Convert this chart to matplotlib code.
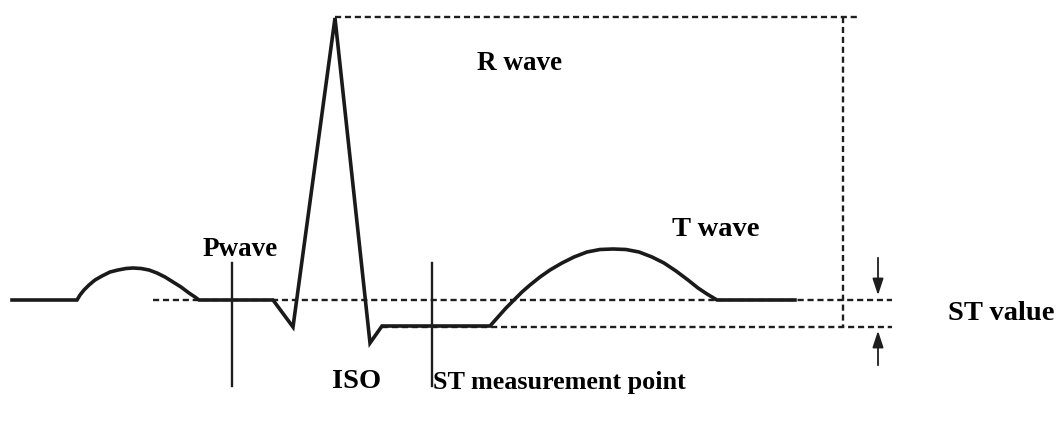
import matplotlib
matplotlib.use('Agg')
import matplotlib.pyplot as plt

# ECG trace, in picture units (x right, y down)
p_x = [77, 80, 84, 89, 95, 102, 110, 118, 126, 133, 141, 149, 157, 165, 173, 181, 189, 195, 199]
p_y = [300, 295, 290, 285, 280, 276, 272, 270, 268.5, 268, 268.5, 270, 273, 277, 282, 287, 293, 297, 300]
qrs_x = [273, 293, 335, 370, 382, 490]
qrs_y = [300, 327, 18, 343, 326, 326]
t_x = [498, 506, 514, 522, 530, 540, 550, 562, 574, 587, 600, 613,
       626, 639, 652, 664, 676, 688, 698, 707, 717, 795]
t_y = [317, 308, 300, 292, 285, 277, 270, 263, 257, 252, 249.5, 249,
       249.5, 252, 257, 263, 271, 280, 288, 294, 300, 300]

trace_x = [12] + p_x + qrs_x + t_x
trace_y = [300] + p_y + qrs_y + t_y

iso_level = 300
st_level = 327
r_peak = (335, 17)
r_box_right = 860
r_box_vert = 843
dash_right = 892

marker_x = [232, 432]
marker_top = 263
marker_bottom = 386

labels = ['R wave', 'T wave', 'Pwave', 'ISO', 'ST measurement point', 'ST value']
label_x = [520, 716, 240, 357, 433, 948]
label_y = [63, 229, 250, 382, 382, 313]
label_ha = ['center', 'center', 'center', 'center', 'left', 'left']
label_size = [19.5, 20.5, 19.5, 20.5, 18.8, 20.5]

fig = plt.figure(figsize=(10.59, 4.23), dpi=100)
ax = fig.add_axes([0, 0, 1, 1])
ax.set_xlim(0, 1059)
ax.set_ylim(423, 0)
ax.axis('off')

dash = dict(color='#1e1e1e', lw=1.7, linestyle=(0, (2.6, 1.6)))

# baseline dashed lines
ax.plot([153, dash_right], [iso_level, iso_level], **dash)
ax.plot([382, dash_right], [st_level, st_level], **dash)
# R wave box
ax.plot([r_peak[0], r_box_right], [r_peak[1], r_peak[1]], **dash)
ax.plot([r_box_vert, r_box_vert], [r_peak[1], st_level], **dash)

# ECG trace
ax.plot(trace_x, trace_y, color='#1a1a1a', lw=2.6, solid_joinstyle='miter')

# marker lines
for mx in marker_x:
    ax.plot([mx, mx], [marker_top, marker_bottom], color='#1e1e1e', lw=1.7)

# ST value arrows
arrow = dict(arrowstyle='-|>,head_length=1.0,head_width=0.33', color='#1e1e1e', lw=1.3)
ax.annotate('', xy=(878, iso_level - 2), xytext=(878, 255), arrowprops=arrow)
ax.annotate('', xy=(878, st_level + 1), xytext=(878, 368), arrowprops=arrow)

for t, x, y, ha, fs in zip(labels, label_x, label_y, label_ha, label_size):
    ax.text(x, y, t, ha=ha, va='center', fontsize=fs, fontweight='bold',
            family='Liberation Serif', color='black')

fig.savefig('out.png', dpi=100)
